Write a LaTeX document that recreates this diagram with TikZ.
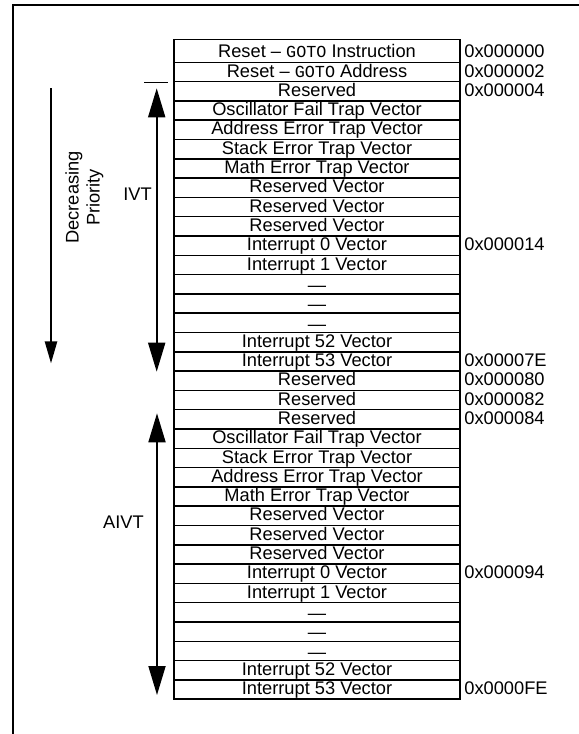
\documentclass[tikz,border=0pt]{standalone}
\usepackage{fontspec}
\setmainfont{Liberation Sans}
\newfontfamily\monof{Liberation Mono}
\usetikzlibrary{arrows.meta}
\newcommand\gotot{{\monof\fontsize{12.6pt}{13pt}\selectfont GOTO}}
\newcommand\dashrow{\raisebox{-1.6pt}[0pt][0pt]{—}}
\begin{document}
\begin{tikzpicture}[x=0.75pt,y=-0.75pt,
  txt/.style={font=\fontsize{13.7pt}{15.75pt}\selectfont, inner sep=0pt},
  row/.style={txt, draw, line width=1.15pt, minimum width=214.5pt, minimum height=14.475pt, text height=10.7pt, text depth=3pt},
  toprow/.style={row, minimum height=17.25pt, text height=12.75pt, text depth=3pt},
  addr/.style={txt, anchor=base west},
  frame/.style={line width=1.35pt},
  bigarrow/.style={line width=1.35pt, {Triangle[length=21.75pt,width=12.75pt]}-{Triangle[length=21.75pt,width=12.75pt]}},
  prioarrow/.style={line width=1.35pt, -{Triangle[length=16.5pt,width=9.2pt]}},
  tick/.style={line width=1.15pt}
]
\useasboundingbox (0,0) rectangle (578,734);
\draw[frame] (12.7,740) -- (12.7,4.7) -- (585,4.7);

\node[toprow] (r1) at (317,50.8) {Reset – \gotot\ Instruction};
\foreach \t [count=\i from 2] in {
  Reset – \gotot\ Address,
  Reserved,
  Oscillator Fail Trap Vector,
  Address Error Trap Vector,
  Stack Error Trap Vector,
  Math Error Trap Vector,
  Reserved Vector,
  Reserved Vector,
  Reserved Vector,
  Interrupt 0 Vector,
  Interrupt 1 Vector,
  \dashrow,
  \dashrow,
  \dashrow,
  Interrupt 52 Vector,
  Interrupt 53 Vector,
  Reserved,
  Reserved,
  Reserved,
  Oscillator Fail Trap Vector,
  Stack Error Trap Vector,
  Address Error Trap Vector,
  Math Error Trap Vector,
  Reserved Vector,
  Reserved Vector,
  Reserved Vector,
  Interrupt 0 Vector,
  Interrupt 1 Vector,
  \dashrow,
  \dashrow,
  \dashrow,
  Interrupt 52 Vector,
  Interrupt 53 Vector}
  \node[row] (r\i) at (317,{71.95+(\i-2)*19.3}) {\t};

\foreach \i/\a in {1/0x000000,2/0x000002,3/0x000004,11/0x000014,17/0x00007E,18/0x000080,19/0x000082,20/0x000084,28/0x000094,34/0x0000FE}
  \node[addr] (a\i) at ([xshift=2.5pt]r\i.base east) {\a};

% tick mark and arrows
\coordinate (tickL) at (144,82.5);
\coordinate (tickR) at (168,82.5);
\draw[tick] (tickL) -- (tickR);

\coordinate (ivtT) at (156.7,88.3);
\coordinate (ivtB) at (156.7,371.7);
\draw[bigarrow] (ivtT) -- (ivtB);

\coordinate (aivtT) at (157,413.3);
\coordinate (aivtB) at (157,695);
\draw[bigarrow] (aivtT) -- (aivtB);

\coordinate (dpT) at (51,88.3);
\coordinate (dpB) at (51,363.3);
\draw[prioarrow] (dpT) -- (dpB);

\node[txt, anchor=base] (ivt) at (137.5,200) {IVT};
\node[txt, anchor=base] (aivt) at (123.5,528.3) {AIVT};
\node[txt, rotate=90, align=center] (dp) at (84.5,197.5) {Decreasing\\Priority};
\end{tikzpicture}
\end{document}
